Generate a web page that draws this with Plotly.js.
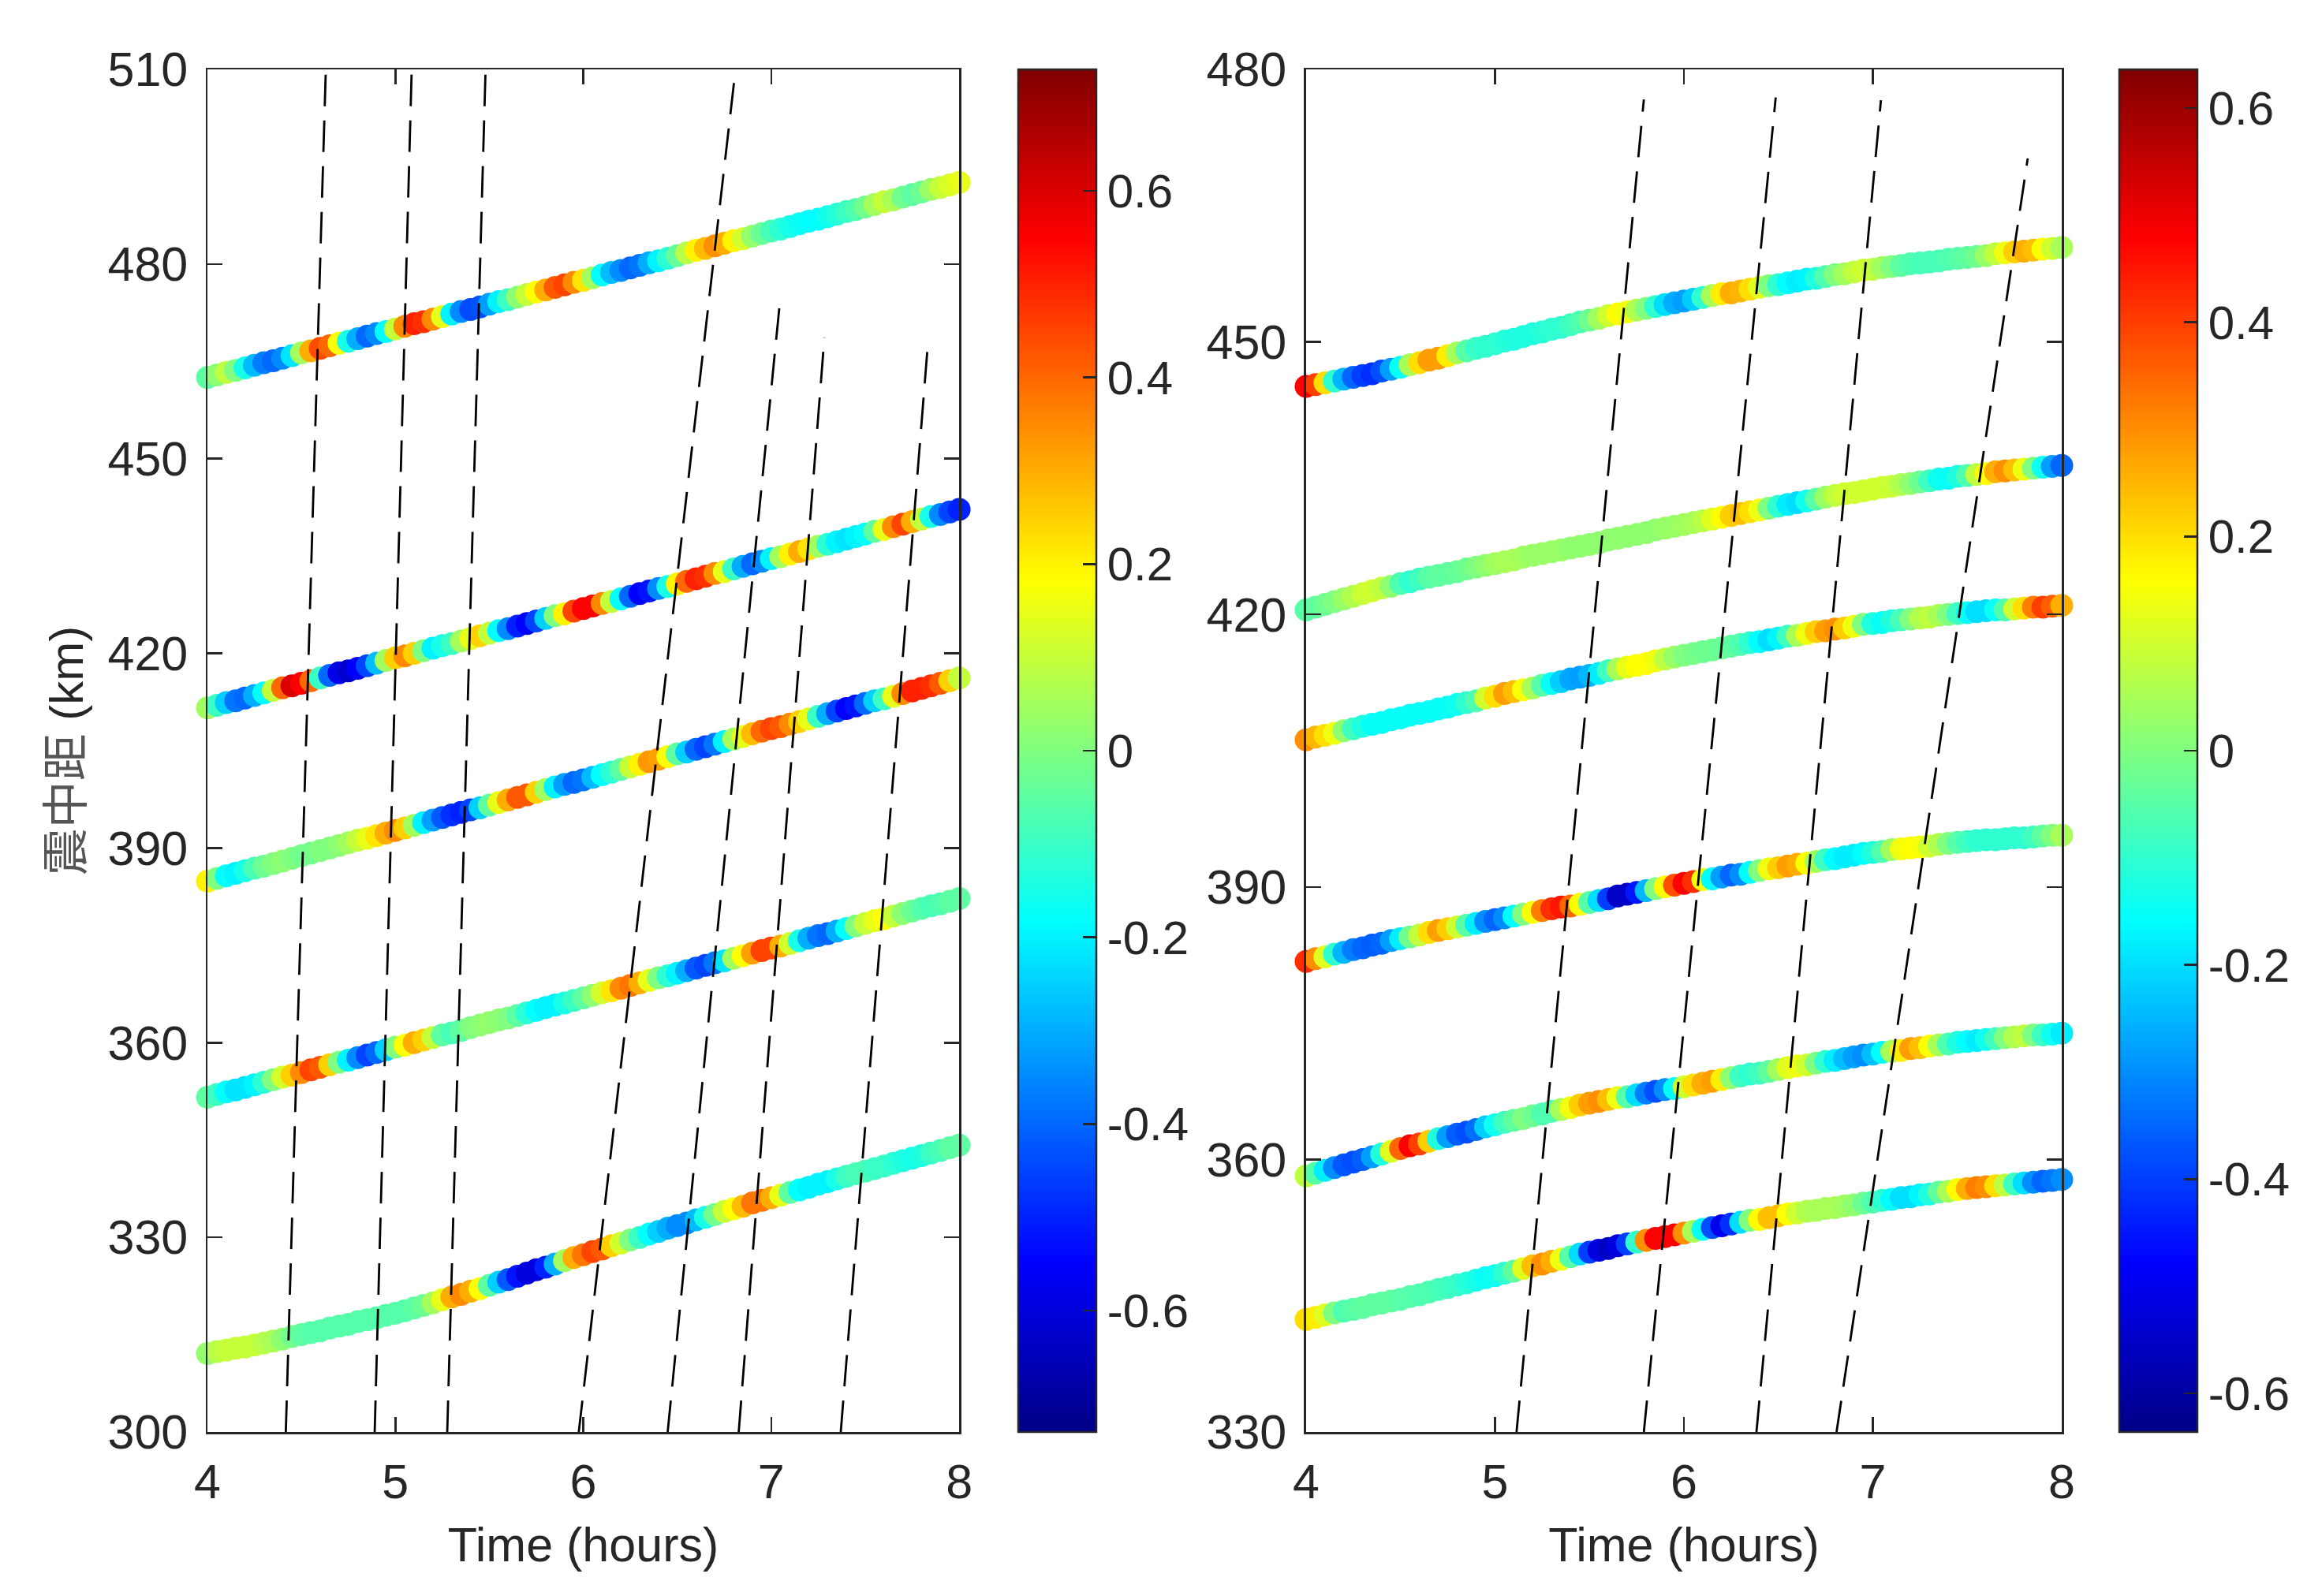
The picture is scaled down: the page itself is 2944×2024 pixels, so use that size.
<!DOCTYPE html>
<html>
<head>
<meta charset="utf-8">
<script src="https://cdn.plot.ly/plotly-3.0.1.min.js"></script>
<style>html,body{margin:0;padding:0;background:#fff;}</style>
</head>
<body>
<div id="chart" style="width:2944px;height:2024px;"></div>
<script>
// Time samples (hours)
const T = [4.00,4.05,4.10,4.15,4.20,4.25,4.30,4.35,4.40,4.45,4.50,4.55,4.60,4.65,4.70,4.75,4.80,4.85,4.90,4.95,5.00,5.05,5.10,5.15,5.20,5.25,5.30,5.35,5.40,5.45,5.50,5.55,5.60,5.65,5.70,5.75,5.80,5.85,5.90,5.95,6.00,6.05,6.10,6.15,6.20,6.25,6.30,6.35,6.40,6.45,6.50,6.55,6.60,6.65,6.70,6.75,6.80,6.85,6.90,6.95,7.00,7.05,7.10,7.15,7.20,7.25,7.30,7.35,7.40,7.45,7.50,7.55,7.60,7.65,7.70,7.75,7.80,7.85,7.90,7.95,8.00];

// ---- Left panel tracks (epicentral distance, km) ----
const trackA_dist = [462.5,462.9,463.3,463.6,464.0,464.4,464.8,465.1,465.5,465.9,466.3,466.6,467.0,467.4,467.8,468.1,468.5,468.9,469.3,469.6,470.0,470.4,470.8,471.1,471.5,471.9,472.3,472.7,473.0,473.4,473.8,474.2,474.5,474.9,475.3,475.7,476.0,476.4,476.8,477.2,477.5,477.9,478.3,478.7,479.0,479.4,479.8,480.2,480.5,480.9,481.3,481.7,482.1,482.4,482.8,483.2,483.6,483.9,484.3,484.7,485.1,485.4,485.8,486.2,486.6,486.9,487.3,487.7,488.1,488.4,488.8,489.2,489.6,489.9,490.3,490.7,491.1,491.5,491.8,492.2,492.6];
const trackA_val = [-0.05,0.02,0.09,0.0,-0.15,-0.28,-0.37,-0.4,-0.35,-0.22,0.05,0.3,0.44,0.4,0.18,-0.15,-0.3,-0.4,-0.35,-0.18,0.1,0.35,0.5,0.48,0.35,0.15,-0.2,-0.35,-0.44,-0.43,-0.32,-0.2,-0.1,0.02,0.1,0.18,0.3,0.42,0.45,0.35,0.22,0.05,-0.18,-0.28,-0.35,-0.4,-0.38,-0.3,-0.2,-0.12,-0.04,0.08,0.2,0.28,0.34,0.3,0.2,0.12,0.03,-0.03,-0.08,-0.12,-0.15,-0.17,-0.18,-0.18,-0.16,-0.13,-0.1,-0.07,-0.02,0.05,0.1,0.06,-0.02,-0.05,-0.03,0.04,0.1,0.13,0.15];

const trackB_dist = [411.6,412.0,412.4,412.7,413.1,413.5,413.9,414.3,414.7,415.0,415.4,415.8,416.2,416.6,417.0,417.3,417.7,418.1,418.5,418.9,419.3,419.6,420.0,420.4,420.8,421.2,421.5,421.9,422.3,422.7,423.1,423.5,423.8,424.2,424.6,425.0,425.4,425.8,426.1,426.5,426.9,427.3,427.7,428.0,428.4,428.8,429.2,429.6,430.0,430.3,430.7,431.1,431.5,431.9,432.3,432.6,433.0,433.4,433.8,434.2,434.6,434.9,435.3,435.7,436.1,436.5,436.8,437.2,437.6,438.0,438.4,438.8,439.1,439.5,439.9,440.3,440.7,441.1,441.4,441.8,442.2];
const trackB_val = [0.05,-0.1,-0.25,-0.38,-0.4,-0.3,-0.18,0.1,0.4,0.6,0.55,0.4,-0.1,-0.4,-0.58,-0.62,-0.55,-0.45,-0.28,0.05,0.25,0.35,0.25,0.0,-0.2,-0.15,-0.1,0.05,0.15,0.25,0.1,-0.18,-0.35,-0.5,-0.55,-0.45,-0.25,0.0,0.2,0.45,0.55,0.55,0.35,0.1,-0.18,-0.4,-0.55,-0.52,-0.35,-0.15,0.2,0.4,0.5,0.48,0.35,0.15,-0.1,-0.3,-0.4,-0.35,-0.2,0.05,0.2,0.3,0.22,0.05,-0.12,-0.2,-0.22,-0.2,-0.18,-0.05,0.15,0.35,0.45,0.3,0.1,-0.15,-0.35,-0.45,-0.5];

const trackC_dist = [384.9,385.3,385.7,386.1,386.5,386.9,387.2,387.6,388.0,388.4,388.8,389.2,389.6,390.0,390.4,390.8,391.2,391.5,391.9,392.3,392.7,393.1,393.5,393.9,394.3,394.7,395.1,395.5,395.9,396.2,396.6,397.0,397.4,397.8,398.2,398.6,399.0,399.4,399.8,400.1,400.5,400.9,401.3,401.7,402.1,402.5,402.9,403.3,403.7,404.1,404.5,404.8,405.2,405.6,406.0,406.4,406.8,407.2,407.6,408.0,408.4,408.7,409.1,409.5,409.9,410.3,410.7,411.1,411.5,411.9,412.3,412.7,413.0,413.4,413.8,414.2,414.6,415.0,415.4,415.8,416.2];
const trackC_val = [0.2,0.0,-0.18,-0.2,-0.15,-0.08,-0.03,0.0,0.02,0.0,-0.02,-0.02,0.0,0.0,0.02,0.05,0.1,0.15,0.22,0.3,0.35,0.25,0.05,-0.2,-0.32,-0.42,-0.48,-0.5,-0.45,-0.25,-0.05,0.15,0.3,0.42,0.42,0.25,0.05,-0.2,-0.32,-0.4,-0.38,-0.28,-0.18,-0.12,-0.05,0.1,0.2,0.33,0.32,0.18,-0.05,-0.25,-0.4,-0.45,-0.38,-0.2,0.05,0.15,0.28,0.4,0.45,0.42,0.35,0.25,0.15,-0.1,-0.3,-0.45,-0.55,-0.52,-0.4,-0.25,-0.1,0.15,0.35,0.5,0.5,0.48,0.42,0.25,0.1];

const trackD_dist = [351.6,352.0,352.4,352.7,353.1,353.5,353.9,354.3,354.7,355.0,355.4,355.8,356.2,356.6,357.0,357.3,357.7,358.1,358.5,358.9,359.3,359.6,360.0,360.4,360.8,361.2,361.5,361.9,362.3,362.7,363.1,363.5,363.8,364.2,364.6,365.0,365.4,365.8,366.1,366.5,366.9,367.3,367.7,368.0,368.4,368.8,369.2,369.6,370.0,370.3,370.7,371.1,371.5,371.9,372.3,372.6,373.0,373.4,373.8,374.2,374.6,374.9,375.3,375.7,376.1,376.5,376.8,377.2,377.6,378.0,378.4,378.8,379.1,379.5,379.9,380.3,380.7,381.1,381.4,381.8,382.2];
const trackD_val = [-0.05,-0.1,-0.18,-0.22,-0.22,-0.2,-0.12,0.0,0.12,0.25,0.35,0.45,0.42,0.25,0.0,-0.2,-0.35,-0.45,-0.4,-0.25,0.0,0.18,0.3,0.25,0.1,-0.05,-0.08,-0.05,0.0,0.02,0.03,0.02,0.0,-0.05,-0.12,-0.18,-0.2,-0.2,-0.15,-0.1,-0.05,0.02,0.12,0.22,0.35,0.38,0.3,0.15,0.0,-0.12,-0.2,-0.3,-0.42,-0.45,-0.38,-0.22,0.05,0.18,0.32,0.45,0.45,0.3,0.12,-0.15,-0.3,-0.38,-0.4,-0.3,-0.18,0.0,0.1,0.15,0.18,0.1,0.02,-0.03,-0.06,-0.08,-0.07,-0.05,-0.05];

const trackE_dist = [312.1,312.4,312.6,312.9,313.1,313.4,313.7,314.0,314.3,314.7,315.0,315.3,315.6,316.0,316.3,316.6,317.0,317.3,317.6,318.0,318.3,318.7,319.1,319.5,319.9,320.4,320.8,321.2,321.7,322.1,322.6,323.1,323.5,324.0,324.5,325.0,325.4,325.9,326.4,326.9,327.3,327.8,328.2,328.7,329.1,329.6,330.0,330.5,330.9,331.4,331.8,332.2,332.7,333.1,333.5,334.0,334.4,334.8,335.3,335.7,336.1,336.5,336.9,337.3,337.7,338.2,338.6,339.0,339.4,339.8,340.2,340.6,341.0,341.4,341.8,342.2,342.6,343.0,343.4,343.8,344.2];
const trackE_val = [0.03,0.08,0.1,0.1,0.1,0.1,0.08,0.06,0.02,-0.02,-0.05,-0.06,-0.06,-0.06,-0.06,-0.06,-0.06,-0.06,-0.06,-0.06,-0.06,-0.06,-0.05,-0.03,0.05,0.15,0.3,0.35,0.3,0.18,-0.05,-0.25,-0.42,-0.52,-0.6,-0.6,-0.5,-0.3,0.05,0.3,0.38,0.45,0.42,0.25,0.12,0.0,-0.1,-0.18,-0.25,-0.3,-0.35,-0.35,-0.28,-0.15,-0.02,0.1,0.18,0.28,0.38,0.38,0.3,0.15,-0.05,-0.18,-0.2,-0.2,-0.2,-0.15,-0.1,-0.08,-0.08,-0.1,-0.1,-0.12,-0.14,-0.15,-0.14,-0.1,-0.08,-0.05,-0.05];

// ---- Right panel tracks ----
const trackF_dist = [445.1,445.3,445.5,445.7,445.9,446.1,446.3,446.5,446.8,447.0,447.2,447.5,447.7,448.0,448.2,448.5,448.8,449.0,449.3,449.5,449.8,450.1,450.3,450.6,450.9,451.1,451.4,451.6,451.9,452.2,452.4,452.6,452.9,453.1,453.3,453.5,453.7,453.9,454.1,454.3,454.5,454.7,454.9,455.1,455.3,455.4,455.6,455.8,456.0,456.2,456.3,456.5,456.7,456.9,457.0,457.2,457.4,457.5,457.7,457.9,458.0,458.2,458.3,458.4,458.6,458.7,458.8,458.9,459.1,459.2,459.3,459.4,459.5,459.7,459.8,459.9,460.0,460.1,460.2,460.3,460.4];
const trackF_val = [0.48,0.4,0.2,-0.1,-0.25,-0.35,-0.4,-0.42,-0.38,-0.28,-0.15,0.05,0.2,0.28,0.28,0.18,0.05,-0.05,-0.09,-0.1,-0.1,-0.11,-0.12,-0.12,-0.12,-0.11,-0.1,-0.1,-0.08,-0.06,-0.02,0.04,0.1,0.16,0.14,0.06,0.0,-0.1,-0.2,-0.26,-0.28,-0.22,-0.1,0.05,0.18,0.26,0.25,0.2,0.12,0.0,-0.1,-0.16,-0.18,-0.17,-0.12,-0.06,0.0,0.04,0.08,0.1,0.08,0.04,0.0,-0.04,-0.06,-0.07,-0.07,-0.07,-0.06,-0.05,-0.04,-0.02,0.03,0.08,0.14,0.22,0.26,0.24,0.16,0.1,0.05];

const trackG_dist = [420.5,420.8,421.1,421.4,421.7,422.0,422.3,422.6,422.9,423.1,423.4,423.6,423.9,424.1,424.3,424.5,424.7,425.0,425.2,425.4,425.6,425.8,426.0,426.3,426.5,426.7,426.9,427.1,427.3,427.5,427.7,427.9,428.2,428.4,428.6,428.8,429.0,429.3,429.5,429.7,429.9,430.1,430.3,430.5,430.7,430.9,431.1,431.3,431.5,431.7,431.9,432.1,432.3,432.5,432.7,432.9,433.1,433.3,433.4,433.6,433.8,434.0,434.1,434.3,434.4,434.6,434.7,434.9,435.0,435.2,435.3,435.4,435.5,435.7,435.8,435.9,436.0,436.1,436.2,436.3,436.4];
const trackG_val = [-0.05,-0.04,-0.02,0.0,0.03,0.06,0.09,0.1,0.08,0.02,-0.06,-0.1,-0.08,-0.05,-0.04,-0.04,-0.03,-0.02,0.0,0.02,0.04,0.05,0.05,0.04,0.03,0.03,0.03,0.03,0.02,0.02,0.02,0.02,0.02,0.02,0.02,0.02,0.02,0.02,0.03,0.03,0.04,0.05,0.07,0.12,0.16,0.22,0.24,0.2,0.14,0.0,-0.1,-0.18,-0.2,-0.14,-0.05,0.03,0.08,0.1,0.1,0.1,0.1,0.1,0.09,0.06,0.02,-0.02,-0.08,-0.14,-0.15,-0.12,-0.06,0.08,0.16,0.26,0.3,0.24,0.14,0.0,-0.14,-0.28,-0.35];

const trackH_dist = [406.2,406.5,406.7,406.9,407.2,407.4,407.7,407.9,408.1,408.4,408.6,408.9,409.1,409.3,409.6,409.8,410.1,410.3,410.5,410.8,411.0,411.3,411.5,411.7,411.9,412.2,412.4,412.6,412.9,413.1,413.3,413.5,413.8,414.0,414.2,414.4,414.6,414.9,415.1,415.3,415.5,415.7,415.9,416.1,416.3,416.5,416.7,416.9,417.0,417.2,417.4,417.6,417.7,417.9,418.1,418.2,418.4,418.5,418.7,418.9,419.0,419.1,419.3,419.4,419.5,419.6,419.7,419.9,420.0,420.1,420.2,420.3,420.4,420.5,420.5,420.6,420.7,420.8,420.8,420.9,421.0];
const trackH_val = [0.3,0.25,0.2,0.14,0.02,-0.08,-0.12,-0.15,-0.15,-0.15,-0.15,-0.15,-0.15,-0.15,-0.15,-0.15,-0.14,-0.1,-0.06,0.1,0.2,0.28,0.24,0.15,0.05,-0.05,-0.15,-0.22,-0.27,-0.28,-0.25,-0.18,-0.08,0.05,0.13,0.16,0.16,0.14,0.08,0.03,0.0,-0.01,-0.02,-0.02,-0.03,-0.04,-0.06,-0.1,-0.16,-0.2,-0.17,-0.08,0.05,0.14,0.22,0.28,0.3,0.22,0.14,0.0,-0.12,-0.15,-0.12,-0.07,0.0,0.06,0.08,0.05,0.0,-0.08,-0.15,-0.2,-0.2,-0.15,-0.06,0.1,0.2,0.32,0.4,0.36,0.26];

const trackI_dist = [381.8,382.1,382.3,382.6,382.8,383.1,383.3,383.6,383.8,384.1,384.3,384.5,384.7,385.0,385.2,385.4,385.6,385.8,386.0,386.2,386.4,386.6,386.8,387.0,387.2,387.4,387.6,387.8,387.9,388.1,388.3,388.5,388.7,389.0,389.2,389.4,389.6,389.8,390.0,390.2,390.4,390.6,390.8,390.9,391.1,391.3,391.4,391.6,391.8,392.0,392.1,392.3,392.5,392.6,392.8,393.0,393.1,393.3,393.5,393.7,393.8,393.9,394.1,394.2,394.3,394.4,394.5,394.7,394.8,394.9,395.0,395.1,395.2,395.2,395.3,395.4,395.4,395.5,395.6,395.7,395.7];
const trackI_val = [0.42,0.3,0.12,-0.1,-0.25,-0.32,-0.35,-0.36,-0.35,-0.28,-0.18,-0.02,0.08,0.2,0.28,0.22,0.1,-0.05,-0.18,-0.3,-0.35,-0.3,-0.16,0.0,0.15,0.32,0.42,0.45,0.35,0.16,-0.05,-0.2,-0.4,-0.55,-0.55,-0.45,-0.25,0.0,0.16,0.38,0.48,0.42,0.15,-0.16,-0.28,-0.35,-0.3,-0.16,0.0,0.14,0.22,0.28,0.26,0.16,0.04,-0.08,-0.16,-0.18,-0.18,-0.16,-0.12,-0.06,0.04,0.14,0.16,0.15,0.1,0.06,0.0,-0.05,-0.08,-0.1,-0.1,-0.1,-0.1,-0.1,-0.1,-0.08,-0.04,0.0,0.05];

const trackJ_dist = [358.2,358.5,358.8,359.1,359.4,359.7,360.0,360.3,360.6,360.9,361.2,361.5,361.7,362.0,362.3,362.5,362.8,363.0,363.3,363.6,363.8,364.1,364.3,364.5,364.8,365.0,365.3,365.5,365.7,366.0,366.2,366.4,366.6,366.8,366.9,367.1,367.3,367.5,367.7,367.8,368.0,368.2,368.4,368.6,368.8,369.0,369.2,369.4,369.5,369.7,369.9,370.1,370.3,370.4,370.6,370.8,370.9,371.1,371.3,371.5,371.6,371.8,371.9,372.0,372.2,372.3,372.5,372.6,372.7,372.9,373.0,373.1,373.2,373.3,373.4,373.5,373.6,373.7,373.7,373.8,373.9];
const trackJ_val = [0.08,-0.05,-0.18,-0.3,-0.37,-0.38,-0.36,-0.28,-0.12,0.12,0.35,0.48,0.4,0.22,-0.12,-0.28,-0.36,-0.38,-0.34,-0.22,-0.14,-0.08,-0.04,0.0,-0.02,-0.06,-0.06,0.05,0.14,0.22,0.28,0.3,0.24,0.14,-0.05,-0.2,-0.32,-0.38,-0.3,-0.16,0.1,0.2,0.26,0.28,0.18,0.02,-0.08,-0.1,-0.08,-0.04,0.04,0.12,0.14,0.1,0.0,-0.1,-0.18,-0.24,-0.28,-0.3,-0.24,-0.16,0.05,0.18,0.28,0.24,0.16,0.05,-0.06,-0.12,-0.16,-0.18,-0.14,-0.08,0.0,0.06,0.08,0.0,-0.08,-0.14,-0.18];

const trackK_dist = [342.4,342.6,342.9,343.1,343.3,343.5,343.7,344.0,344.2,344.4,344.6,344.9,345.1,345.4,345.7,345.9,346.2,346.4,346.7,347.0,347.2,347.5,347.7,348.0,348.3,348.5,348.8,349.0,349.3,349.6,349.8,350.0,350.2,350.5,350.7,350.9,351.1,351.3,351.5,351.7,351.9,352.1,352.3,352.5,352.7,352.9,353.1,353.3,353.4,353.6,353.8,354.0,354.1,354.3,354.4,354.6,354.7,354.9,355.0,355.2,355.3,355.5,355.6,355.8,355.9,356.1,356.2,356.4,356.5,356.7,356.8,356.9,357.0,357.1,357.2,357.3,357.4,357.5,357.6,357.7,357.8];
const trackK_val = [0.2,0.18,0.12,0.0,-0.06,-0.05,-0.04,-0.04,-0.04,-0.04,-0.05,-0.05,-0.06,-0.06,-0.07,-0.08,-0.09,-0.11,-0.13,-0.15,-0.14,-0.1,-0.04,0.12,0.24,0.3,0.26,0.14,-0.05,-0.2,-0.4,-0.52,-0.55,-0.52,-0.4,-0.1,0.3,0.48,0.48,0.48,0.3,0.05,-0.15,-0.38,-0.5,-0.42,-0.2,0.0,0.16,0.24,0.24,0.16,0.1,0.06,0.05,0.05,0.05,0.04,0.02,-0.02,-0.06,-0.1,-0.16,-0.2,-0.2,-0.17,-0.12,-0.04,0.05,0.16,0.26,0.32,0.3,0.2,0.08,-0.08,-0.2,-0.3,-0.35,-0.33,-0.3];

// ---- Dashed lines: [start, end] in time and distance ----
const leftDashTime = [[4.417,4.63],[4.89,5.087],[5.276,5.48],[5.976,6.81],[6.449,7.047],[6.827,7.283],[7.37,7.835]];
const leftDashDist = [[300,510],[300,510],[300,510],[300,510],[300,474.4],[300,468.7],[300,468.2]];
const rightDashTime = [[5.114,5.788],[5.788,6.486],[6.384,7.043],[6.808,7.82]];
const rightDashDist = [[330,476.7],[330,476.9],[330,476.6],[330,470.2]];

// Tick labels
const xTicks = [4,5,6,7,8];
const leftYTicks = [300,330,360,390,420,450,480,510];
const rightYTicks = [330,360,390,420,450,480];
const cbTickVals = [-0.6,-0.4,-0.2,0,0.2,0.4,0.6];
const cbTickText = ['-0.6','-0.4','-0.2','0','0.2','0.4','0.6'];

const jet = [[0,'rgb(0,0,134)'],[0.125,'rgb(0,0,255)'],[0.375,'rgb(0,255,255)'],[0.625,'rgb(255,255,0)'],[0.875,'rgb(255,0,0)'],[1,'rgb(128,0,0)']];

const INK = '#262626';
const FONT = 'Liberation Sans, Arial, Helvetica, sans-serif';

const traces = [];
function track(y, c, xa, ya, ca) {
  traces.push({
    type: 'scatter', mode: 'markers', x: T, y: y, xaxis: xa, yaxis: ya,
    cliponaxis: false, hoverinfo: 'skip', showlegend: false,
    marker: {color: c, coloraxis: ca, size: 29, line: {width: 0}}
  });
}
track(trackA_dist, trackA_val, 'x', 'y', 'coloraxis');
track(trackB_dist, trackB_val, 'x', 'y', 'coloraxis');
track(trackC_dist, trackC_val, 'x', 'y', 'coloraxis');
track(trackD_dist, trackD_val, 'x', 'y', 'coloraxis');
track(trackE_dist, trackE_val, 'x', 'y', 'coloraxis');
track(trackF_dist, trackF_val, 'x2', 'y2', 'coloraxis2');
track(trackG_dist, trackG_val, 'x2', 'y2', 'coloraxis2');
track(trackH_dist, trackH_val, 'x2', 'y2', 'coloraxis2');
track(trackI_dist, trackI_val, 'x2', 'y2', 'coloraxis2');
track(trackJ_dist, trackJ_val, 'x2', 'y2', 'coloraxis2');
track(trackK_dist, trackK_val, 'x2', 'y2', 'coloraxis2');

function dashes(times, dists, xa, ya) {
  for (let i = 0; i < times.length; i++) {
    traces.push({
      type: 'scatter', mode: 'lines', x: times[i], y: dists[i], xaxis: xa, yaxis: ya,
      hoverinfo: 'skip', showlegend: false,
      line: {color: '#000', width: 2.8, dash: '40px,18px'}
    });
  }
}
dashes(leftDashTime, leftDashDist, 'x', 'y');
dashes(rightDashTime, rightDashDist, 'x2', 'y2');

const axBase = {
  showgrid: false, zeroline: false, showline: true, linecolor: INK, linewidth: 2.5,
  mirror: 'ticks', ticks: 'inside', ticklen: 19, tickwidth: 2.5, tickcolor: INK,
  tickfont: {family: FONT, size: 61, color: INK}, automargin: false
};

function cbar(x) {
  return {
    x: x, xanchor: 'left', xref: 'paper', y: 0.5, yanchor: 'middle', len: 1, lenmode: 'fraction',
    thickness: 99, thicknessmode: 'pixels', xpad: 0, ypad: 0,
    outlinewidth: 2.5, outlinecolor: INK, borderwidth: 0,
    ticks: 'inside', ticklen: 18, tickwidth: 2.5, tickcolor: INK,
    tickmode: 'array', tickvals: cbTickVals, ticktext: cbTickText,
    tickfont: {family: FONT, size: 60, color: INK}
  };
}

const layout = {
  width: 2944, height: 2024,
  margin: {l: 263, r: 330, t: 88, b: 208, autoexpand: false},
  paper_bgcolor: '#fff', plot_bgcolor: '#fff',
  font: {family: FONT, size: 60, color: INK},
  showlegend: false,
  xaxis: Object.assign({}, axBase, {
    domain: [0, 0.4054], range: [4, 8], anchor: 'y', tickmode: 'array', tickvals: xTicks,
    ticklabelstandoff: 8,
    title: {text: 'Time (hours)', standoff: 26, font: {family: FONT, size: 61, color: INK}}
  }),
  yaxis: Object.assign({}, axBase, {
    domain: [0, 1], range: [300, 510], anchor: 'x', tickmode: 'array', tickvals: leftYTicks,
    ticklabelstandoff: 10,
    title: {text: '<span style="color:#555">震中距</span> (km)', standoff: 12,
            font: {family: 'Liberation Sans, Noto Sans CJK SC, sans-serif', size: 60, color: INK}}
  }),
  xaxis2: Object.assign({}, axBase, {
    domain: [0.5925, 1], range: [4, 8], anchor: 'y2', tickmode: 'array', tickvals: xTicks,
    ticklabelstandoff: 8,
    title: {text: 'Time (hours)', standoff: 26, font: {family: FONT, size: 61, color: INK}}
  }),
  yaxis2: Object.assign({}, axBase, {
    domain: [0, 1], range: [330, 480], anchor: 'x2', tickmode: 'array', tickvals: rightYTicks,
    ticklabelstandoff: 10
  }),
  coloraxis: {cmin: -0.73, cmax: 0.73, colorscale: jet, colorbar: cbar(0.4373)},
  coloraxis2: {cmin: -0.636, cmax: 0.636, colorscale: jet, colorbar: cbar(1.0311)}
};

Plotly.newPlot('chart', traces, layout, {staticPlot: true, displayModeBar: false});
</script>
</body>
</html>
